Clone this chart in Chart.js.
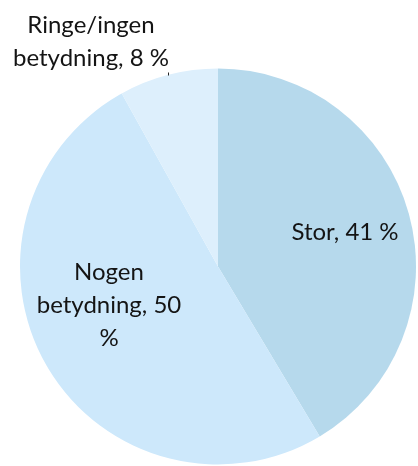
<!DOCTYPE html>
<html lang="da">

<head>
  <meta charset="UTF-8">
  <title>Betydning</title>
  <script src="https://cdn.jsdelivr.net/npm/chart.js"></script>
  <style>
    body {
      margin: 0;
      background: #fff;
    }

    canvas {
      display: block;
    }
  </style>
</head>

<body>
  <canvas id="chart" width="418" height="466"></canvas>

  <script>
    // data
    var categories = ['Stor', 'Nogen betydning', 'Ringe/ingen betydning'];
    var values = [41, 50, 8];
    var labelLines = [
      ['Stor, 41 %'],
      ['Nogen', 'betydning, 50', '%'],
      ['Ringe/ingen', 'betydning, 8 %']
    ];
    var colors = ['#b6d9ec', '#cde8fb', '#ddeffc'];

    // first baseline of each label, relative to the pie centre
    var labelOffsets = [[127, -27], [-109, 13], [-127, -234]];

    var labelPlugin = {
      id: 'sliceLabels',
      afterDatasetsDraw: function (chart) {
        var ctx = chart.ctx;
        var arcs = chart.getDatasetMeta(0).data;
        ctx.save();
        ctx.font = '24px Lato, "Open Sans", sans-serif';
        ctx.fillStyle = '#141414';
        ctx.textAlign = 'center';
        ctx.textBaseline = 'alphabetic';
        arcs.forEach(function (arc, i) {
          var x = arc.x + labelOffsets[i][0];
          var y = arc.y + labelOffsets[i][1];
          labelLines[i].forEach(function (t, j) {
            ctx.fillText(t, x, y + j * 33);
          });
        });
        // tiny leader tick under the small slice label
        var a = arcs[2];
        ctx.strokeStyle = '#222';
        ctx.lineWidth = 1;
        ctx.beginPath();
        ctx.moveTo(a.x - 49.5, a.y - 194);
        ctx.lineTo(a.x - 49.5, a.y - 191);
        ctx.stroke();
        ctx.restore();
      }
    };

    new Chart(document.getElementById('chart').getContext('2d'), {
      type: 'pie',
      data: {
        labels: categories,
        datasets: [{
          data: values,
          backgroundColor: colors,
          borderWidth: 0
        }]
      },
      options: {
        responsive: false,
        animation: false,
        layout: {
          padding: { left: 20, right: 2, top: 68, bottom: 1 }
        },
        plugins: {
          legend: { display: false },
          tooltip: { enabled: false }
        }
      },
      plugins: [labelPlugin]
    });
  </script>
</body>

</html>
